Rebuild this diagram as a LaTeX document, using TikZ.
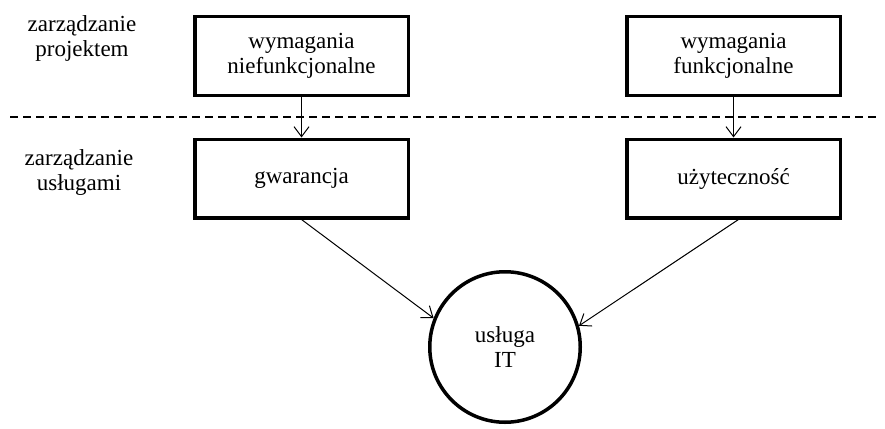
\documentclass[tikz,border=0pt]{standalone}
\usepackage{fontspec}
\setmainfont{Liberation Serif}
\usetikzlibrary{arrows.meta}
\begin{document}
\begin{tikzpicture}[x=1pt,y=-1pt,
  every node/.style={font=\fontsize{23}{25}\selectfont, align=center, inner sep=0pt},
  box/.style={draw, line width=3.5pt, minimum width=213.5pt, minimum height=78.5pt},
  ring/.style={draw, circle, line width=3.5pt, minimum size=150.5pt},
  conn/.style={line width=1pt, -{Straight Barb[length=10pt,width=15pt,line width=1pt]}},
  layer/.style={text width=140pt}]
\useasboundingbox (0,0) rectangle (885,428);

% layer labels
\node[layer] (lp) at (82,38) {zarządzanie\\projektem};
\node[layer] (lu) at (79,173) {zarządzanie\\usługami};

% boundary between project and service management
\coordinate (dl) at (10,117);
\coordinate (dr) at (877,117);
\draw[line width=1.3pt, dash pattern=on 8pt off 5pt] (dl) -- (dr);

% requirement and quality boxes
\node[box] (wn) at (301.5,56) {wymagania\\niefunkcjonalne};
\node[box] (wf) at (733.5,56) {wymagania\\funkcjonalne};
\node[box] (g)  at (301.5,178.5) {gwarancja};
\node[box] (u)  at (733.5,178.5) {użyteczność};

% the IT service
\node[ring] (it) at (505,347) {usługa\\IT};

% connectors
\draw[conn] (wn) -- (g);
\draw[conn] (wf) -- (u);
\draw[conn] (g.south) -- (it.158);
\draw[conn] ([xshift=5pt]u.south) -- (it.16);
\end{tikzpicture}
\end{document}
